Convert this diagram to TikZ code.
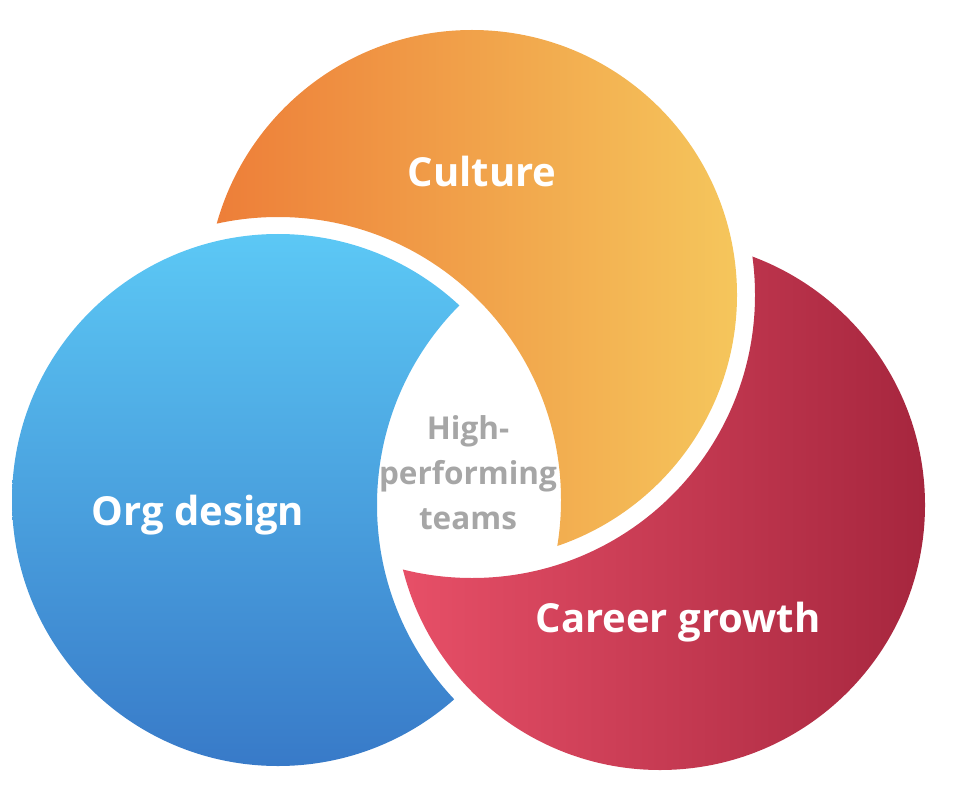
\documentclass[tikz,border=0pt]{standalone}
\usepackage{fontspec}
\setmainfont{Open Sans}
\usepackage{tikz}
\tikzstyle{label} = [text=white, font=\fontsize{40}{44}\selectfont\bfseries]
\tikzstyle{core} = [text=black!35, font=\fontsize{31.5}{45}\selectfont\bfseries, align=center]
\begin{document}
\begin{tikzpicture}[x=1pt, y=-1pt]
	\useasboundingbox (0,0) rectangle (968,810);
	\def\gap{283}
	% blue circle, cut by red
	\begin{scope}[even odd rule]
		\clip (0,0) rectangle (968,810) (660,505) circle (\gap);
		\shade[top color={rgb,255:red,92;green,200;blue,245}, bottom color={rgb,255:red,56;green,122;blue,200}] (278,500) circle (266);
	\end{scope}
	% red circle, cut by orange
	\begin{scope}[even odd rule]
		\clip (0,0) rectangle (968,810) (472,295) circle (\gap);
		\shade[left color={rgb,255:red,232;green,80;blue,104}, right color={rgb,255:red,166;green,38;blue,62}] (660,505) circle (265);
	\end{scope}
	% orange circle, cut by blue
	\begin{scope}[even odd rule]
		\clip (0,0) rectangle (968,810) (278,500) circle (\gap);
		\shade[left color={rgb,255:red,237;green,125;blue,56}, right color={rgb,255:red,245;green,198;blue,92}] (472,295) circle (265);
	\end{scope}
	\node (culture) [label] at (482,172) {Culture};
	\node (org) [label] at (198,515) {Org design};
	\node (career) [label] at (678,622) {Career growth};
	\node (teams) [core] at (468,473) {High-\\performing\\teams};
\end{tikzpicture}
\end{document}
